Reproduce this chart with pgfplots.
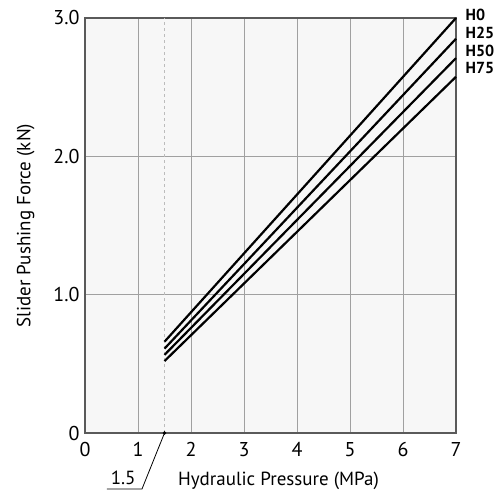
\documentclass[border=0pt]{standalone}
\usepackage{pgfplots}
\pgfplotsset{compat=1.18}
\usepackage{fontspec}
\setmainfont{PT Sans}
\definecolor{frame}{HTML}{5A5A5A}
\definecolor{gridc}{HTML}{A0A0A0}
\definecolor{bg}{HTML}{F7F7F7}
\begin{document}
\begin{tikzpicture}
\begin{axis}[
    scale only axis,
    width=371pt, height=415pt,
    xmin=0, xmax=7, ymin=0, ymax=3,
    xtick={0,1,...,7},
    ytick={0,1,2,3},
    yticklabels={0,1.0,2.0,3.0},
    major tick length=0pt,
    grid=major,
    grid style={gridc, line width=0.8pt},
    axis line style={frame, line width=2.2pt},
    axis background/.style={fill=bg},
    tick label style={font=\fontsize{20}{24}\selectfont},
    /pgf/number format/assume math mode=true,
    xticklabel style={yshift=-6pt},
    yticklabel style={xshift=-2pt},
    xlabel={Hydraulic Pressure (MPa)},
    ylabel={Slider Pushing Force (kN)},
    label style={font=\fontsize{19}{22}\selectfont},
    xlabel style={yshift=-8pt, xshift=8pt},
    ylabel style={yshift=12pt},
    clip=false,
  ]
  \addplot[gridc!70, dashed, line width=0.9pt] coordinates {(1.5,0) (1.5,3)};
  \addplot[black, line width=2.2pt] coordinates {(1.5,0.66) (7,3.00)};
  \addplot[black, line width=2.2pt] coordinates {(1.5,0.61) (7,2.85)};
  \addplot[black, line width=2.2pt] coordinates {(1.5,0.565) (7,2.71)};
  \addplot[black, line width=2.2pt] coordinates {(1.5,0.52) (7,2.575)};
  \addplot[black, line width=0.8pt] coordinates {(1.5,0) (1.075,-0.405) (0.415,-0.405)};
  \addplot[black, only marks, mark=*, mark size=1.6pt] coordinates {(1.5,0)};
  \node[font=\fontsize{19}{22}\selectfont, anchor=south, inner sep=1pt] at (axis cs:0.72,-0.385) {1.5};
  \node[font=\bfseries\fontsize{16}{18}\selectfont, anchor=west, inner sep=0pt] at (axis cs:7.18,3.02) {H0};
  \node[font=\bfseries\fontsize{16}{18}\selectfont, anchor=west, inner sep=0pt] at (axis cs:7.18,2.89) {H25};
  \node[font=\bfseries\fontsize{16}{18}\selectfont, anchor=west, inner sep=0pt] at (axis cs:7.18,2.76) {H50};
  \node[font=\bfseries\fontsize{16}{18}\selectfont, anchor=west, inner sep=0pt] at (axis cs:7.18,2.635) {H75};
\end{axis}
\pgfresetboundingbox
\path (-85pt,-60pt) rectangle (418pt,433pt);
\end{tikzpicture}
\end{document}
